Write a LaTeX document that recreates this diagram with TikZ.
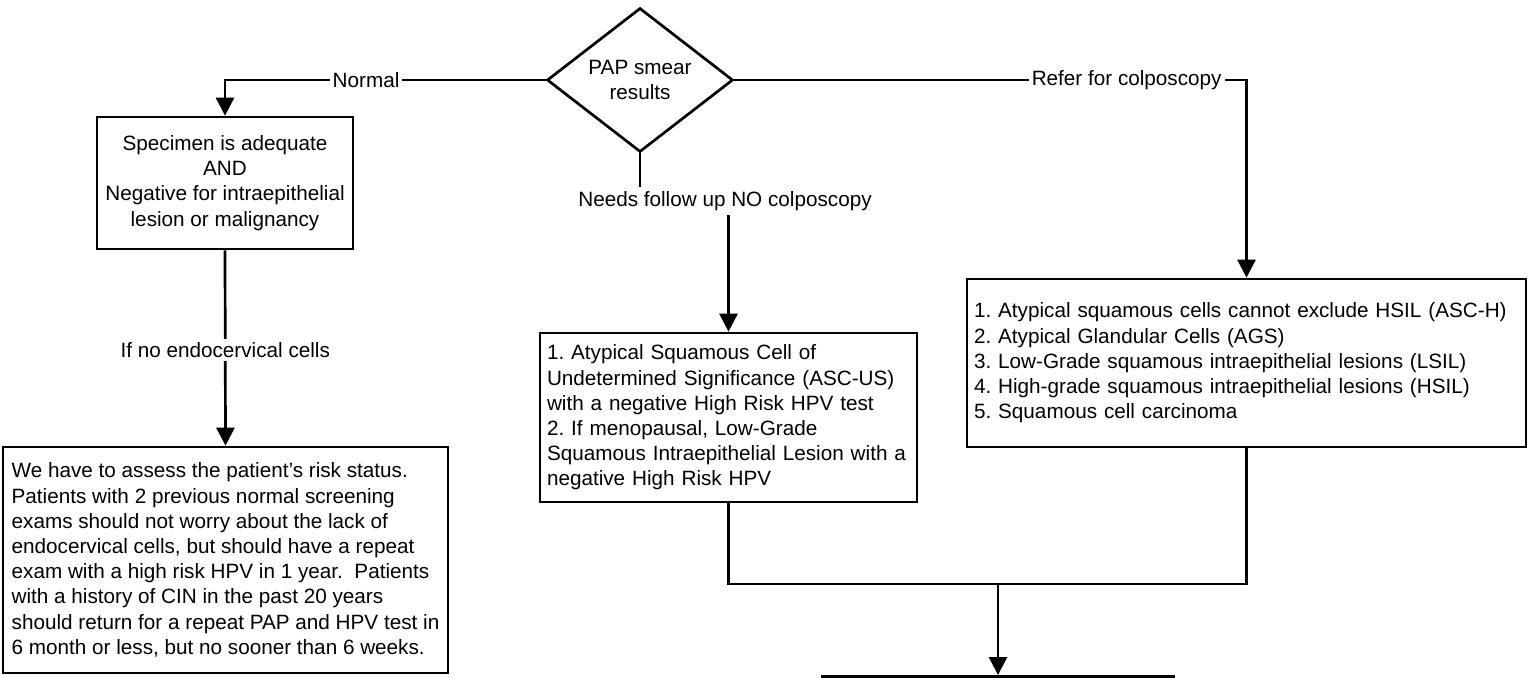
\documentclass[tikz,border=0pt]{standalone}
\usepackage{fontspec}
\setmainfont{Liberation Sans}
\frenchspacing
\usetikzlibrary{shapes.geometric,arrows.meta}
\begin{document}
\begin{tikzpicture}[x=0.5pt, y=-0.5pt, >={Triangle[length=9pt,width=9pt]}, line width=1.35pt, font=\fontsize{10.35pt}{12.6pt}\selectfont]
  \tikzset{box/.style={draw, inner sep=3.5pt},
    tag/.style={fill=white, inner sep=1.5pt}}
  \useasboundingbox (0,0) rectangle (1535,677);
  \node[draw, diamond, aspect=1.3, inner sep=0pt, minimum width=93pt, minimum height=72pt, align=center] (pap) at (640,80) {PAP smear\\results};
  \node[box, align=center, minimum width=128pt, minimum height=66pt] (adequate) at (225,183) {Specimen is adequate\\AND\\Negative for intraepithelial\\lesion or malignancy};
  \node[box, align=left, minimum width=222.5pt, minimum height=113pt] (risk) at (225.5,560) {We have to assess the patient’s risk status.\\Patients with 2 previous normal screening\\exams should not worry about the lack of\\endocervical cells, but should have a repeat\\exam with a high risk HPV in 1 year.\ \ Patients\\with a history of CIN in the past 20 years\\should return for a repeat PAP and HPV test in\\6 month or less, but no sooner than 6 weeks.};
  \node[tag] (follow) at (725,201) {Needs follow up NO colposcopy};
  \node[box, align=left, text width=181.5pt, minimum height=84.5pt] (ascus) at (728.5,417.5) {1. Atypical Squamous Cell of\\Undetermined Significance (ASC-US)\\with a negative High Risk HPV test\\2. If menopausal, Low-Grade\\Squamous Intraepithelial Lesion with a\\negative High Risk HPV};
  \node[box, align=left, text width=272.5pt, minimum height=84pt] (colpo) at (1246.5,363) {1. Atypical squamous cells cannot exclude HSIL (ASC-H)\\2. Atypical Glandular Cells (AGS)\\3. Low-Grade squamous intraepithelial lesions (LSIL)\\4. High-grade squamous intraepithelial lesions (HSIL)\\5. Squamous cell carcinoma};
  \node[box, minimum width=176pt, minimum height=40pt, anchor=north] (next) at (998,675) {};
  \coordinate (join) at (998,584);
  % connectors
  \draw[->] (pap.west) -| node[tag, pos=0.28] {Normal} (adequate.north);
  \draw[->] (pap.east) -| node[tag, pos=0.383] {Refer for colposcopy} (colpo.north);
  \draw[->] (adequate.south) -- node[tag, pos=0.51] {If no endocervical cells} (risk.north);
  \draw (pap.south) -- (pap.south |- follow.north);
  \draw[->] (follow.south -| ascus.north) -- (ascus.north);
  \draw (ascus.south) |- (join) -| (colpo.south);
  \draw[->] (join) -- (next.north);
\end{tikzpicture}
\end{document}
